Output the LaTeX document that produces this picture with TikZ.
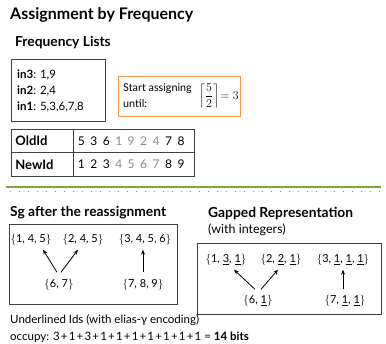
\documentclass[tikz,border=0pt]{standalone}
\usepackage{fontspec}
\setmainfont{Lato}
\usetikzlibrary{arrows.meta}
\definecolor{freqorange}{HTML}{F79646}
\definecolor{sepgreen}{HTML}{7DA23A}
\definecolor{lightid}{HTML}{8A8A8A}
\newcommand{\idgap}{\hspace{5.5pt}}
\newcommand{\pl}{\kern1.2pt+\kern1.2pt}

\begin{document}
\begin{tikzpicture}[x=1pt,y=-1pt,
  title/.style={anchor=west, inner sep=0pt, font=\fontsize{16}{18}\selectfont\bfseries},
  heading/.style={anchor=west, inner sep=0pt, font=\fontsize{13.8}{16}\selectfont\bfseries},
  body/.style={anchor=west, inner sep=0pt, font=\fontsize{11.5}{13}\selectfont},
  frame/.style={draw=#1, line width=0.8pt},
  cell/.style={draw=black!75, line width=0.8pt, minimum height=23.5pt, inner sep=0pt, font=\fontsize{12}{14}\selectfont},
  setnode/.style={inner sep=1pt, font=\fontsize{11}{13}\selectfont},
  link/.style={-{Stealth[length=5pt,width=4pt]}, line width=0.8pt}
]
  \useasboundingbox (0,0) rectangle (386,344);

  % upper half
  \node[title] (main) at (10,15) {Assignment by Frequency};
  \node[heading] (lists) at (15,43) {Frequency Lists};
  \draw[frame=black!75] (11,59) rectangle (105,121);
  \node[body] (in3) at (17,75) {\textbf{in3}: 1,9};
  \node[body] (in2) at (17,91) {\textbf{in2}: 2,4};
  \node[body] (in1) at (17,107) {\textbf{in1}: 5,3,6,7,8};

  \draw[frame=freqorange] (118,76) rectangle (240,116);
  \node[body, font=\fontsize{10.8}{12}\selectfont] (start) at (123,89) {Start assigning};
  \node[body, font=\fontsize{10.8}{12}\selectfont] (until) at (123,104) {until:};
  \node[inner sep=0pt, font=\fontsize{12.5}{14}\selectfont] (ceil) at (219,96)
    {$\left\lceil\displaystyle\frac{5}{2}\right\rceil\!=3$};

  % id table
  \node[cell, minimum width=62pt, anchor=north west, font=\fontsize{13}{15}\selectfont\bfseries,
        align=left, text width=54pt] (oldlab) at (11,129) {OldId};
  \node[cell, minimum width=121pt, anchor=north west, align=left, text width=112pt] (oldval) at (73,129)
    {5\idgap3\idgap6\idgap{\color{lightid}1\idgap9\idgap2\idgap4}\idgap7\idgap8};
  \node[cell, minimum width=62pt, anchor=north west, font=\fontsize{13}{15}\selectfont\bfseries,
        align=left, text width=54pt] (newlab) at (11,152.5) {NewId};
  \node[cell, minimum width=121pt, anchor=north west, align=left, text width=112pt] (newval) at (73,152.5)
    {1\idgap2\idgap3\idgap{\color{lightid}4\idgap5\idgap6\idgap7}\idgap8\idgap9};

  % separator
  \coordinate (sepL) at (6,187);
  \coordinate (sepR) at (381,187);
  \draw[sepgreen, line width=2.4pt] (sepL) -- (sepR);
  \draw[black!45, line width=1pt, dash pattern=on 1pt off 8pt] ([xshift=4pt,yshift=-5pt]sepL) -- ([yshift=-5pt]sepR);

  % Sg after the reassignment
  \node[heading] (sghead) at (10,213) {Sg after the reassignment};
  \draw[frame=black!75] (9,224) rectangle (177,304);
  \node[setnode] (a1) at (31,240) {$\{$1, 4, 5$\}$};
  \node[setnode] (a2) at (83,240) {$\{$2, 4, 5$\}$};
  \node[setnode] (a3) at (145,240) {$\{$3, 4, 5, 6$\}$};
  \node[setnode] (b1) at (59,285) {$\{$6, 7$\}$};
  \node[setnode] (b2) at (143,285) {$\{$7, 8, 9$\}$};
  \draw[link] ([xshift=-2pt,yshift=6pt]b1.north) -- ([xshift=12pt,yshift=-3pt]a1.south);
  \draw[link] ([xshift=2pt,yshift=6pt]b1.north) -- ([xshift=-5pt,yshift=-3pt]a2.south);
  \draw[link] ([yshift=6pt]b2.north) -- ([xshift=-2pt,yshift=-3pt]a3.south);

  % Gapped representation
  \node[heading] (gaphead) at (208,214) {Gapped Representation};
  \node[body, font=\fontsize{12.5}{14}\selectfont] (gapsub) at (208,230) {(with integers)};
  \draw[frame=black!75] (197,243) rectangle (381,314);
  \node[setnode] (c1) at (226,260) {$\{$1, \underline{3}, \underline{1}$\}$};
  \node[setnode] (c2) at (281,260) {$\{$2, \underline{2}, \underline{1}$\}$};
  \node[setnode] (c3) at (343,260) {$\{$3, \underline{1}, \underline{1}, \underline{1}$\}$};
  \node[setnode] (d1) at (258,301) {$\{$6, \underline{1}$\}$};
  \node[setnode] (d2) at (345,301) {$\{$7, \underline{1}, \underline{1}$\}$};
  \draw[link] ([xshift=-3pt,yshift=5pt]d1.north) -- ([xshift=8pt,yshift=-3pt]c1.south);
  \draw[link] ([xshift=3pt,yshift=5pt]d1.north) -- ([xshift=-3pt,yshift=-3pt]c2.south);
  \draw[link] ([xshift=-2pt,yshift=5pt]d2.north) -- ([xshift=0pt,yshift=-3pt]c3.south);

  % note
  \node[body] (note1) at (10,320) {Underlined Ids (with elias-γ encoding)};
  \node[body] (note2) at (10,337) {occupy: 3\pl1\pl3\pl1\pl1\pl1\pl1\pl1\pl1\pl1 = \textbf{14 bits}};
\end{tikzpicture}
\end{document}
